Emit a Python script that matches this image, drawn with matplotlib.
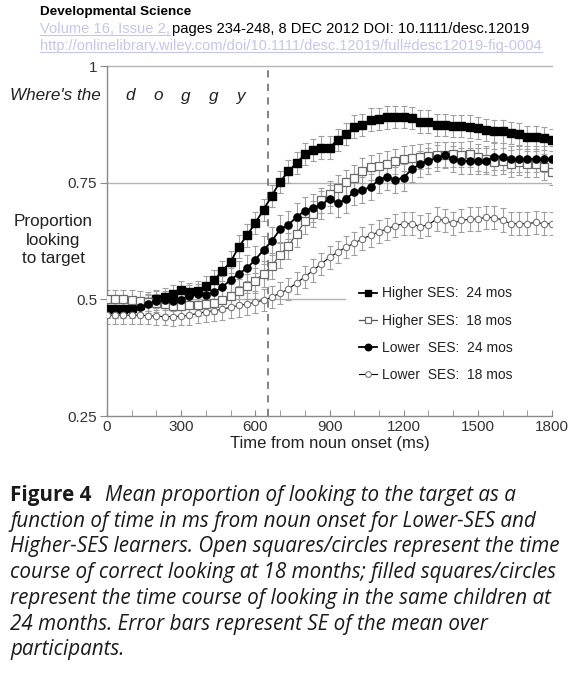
import numpy as np
import matplotlib
matplotlib.use("Agg")
import matplotlib.pyplot as plt
from matplotlib.lines import Line2D

plt.rcParams['font.family'] = ['Liberation Sans', 'DejaVu Sans']

# sample times (ms from noun onset), 30 Hz frames
times = np.linspace(0, 1800, 55)

higher_24 = [0.480, 0.480, 0.480, 0.481, 0.488, 0.494, 0.500, 0.505, 0.511, 0.519, 0.516,
             0.518, 0.529, 0.541, 0.561, 0.580, 0.613, 0.637, 0.664, 0.692, 0.722, 0.752,
             0.774, 0.792, 0.811, 0.820, 0.825, 0.825, 0.842, 0.854, 0.870, 0.874, 0.885,
             0.887, 0.890, 0.891, 0.891, 0.888, 0.881, 0.881, 0.874, 0.874, 0.872, 0.872,
             0.870, 0.867, 0.863, 0.861, 0.860, 0.857, 0.854, 0.847, 0.847, 0.845, 0.841]
higher_18 = [0.500, 0.500, 0.500, 0.499, 0.497, 0.495, 0.492, 0.489, 0.486, 0.486, 0.487,
             0.488, 0.490, 0.493, 0.498, 0.508, 0.518, 0.528, 0.540, 0.555, 0.572, 0.595,
             0.615, 0.640, 0.667, 0.683, 0.712, 0.726, 0.739, 0.751, 0.761, 0.776, 0.783,
             0.786, 0.791, 0.796, 0.801, 0.803, 0.806, 0.808, 0.810, 0.810, 0.811, 0.810,
             0.811, 0.804, 0.801, 0.794, 0.796, 0.791, 0.794, 0.790, 0.790, 0.783, 0.772]
lower_24 = [0.478, 0.478, 0.478, 0.478, 0.484, 0.490, 0.497, 0.498, 0.496, 0.499, 0.508,
            0.511, 0.509, 0.516, 0.526, 0.542, 0.555, 0.567, 0.585, 0.606, 0.625, 0.650,
            0.660, 0.676, 0.690, 0.696, 0.703, 0.715, 0.706, 0.714, 0.731, 0.734, 0.741,
            0.756, 0.763, 0.756, 0.761, 0.779, 0.790, 0.797, 0.803, 0.810, 0.801, 0.797,
            0.796, 0.796, 0.797, 0.806, 0.806, 0.801, 0.801, 0.801, 0.801, 0.801, 0.801]
lower_18 = [0.466, 0.466, 0.466, 0.466, 0.466, 0.465, 0.464, 0.463, 0.463, 0.464, 0.466,
            0.470, 0.473, 0.476, 0.479, 0.483, 0.487, 0.490, 0.494, 0.498, 0.505, 0.513,
            0.522, 0.535, 0.548, 0.562, 0.576, 0.590, 0.601, 0.612, 0.620, 0.630, 0.637,
            0.645, 0.651, 0.658, 0.662, 0.662, 0.656, 0.660, 0.672, 0.669, 0.663, 0.669,
            0.672, 0.672, 0.676, 0.675, 0.670, 0.662, 0.662, 0.662, 0.665, 0.662, 0.662]

# standard errors
se_higher_24 = [0.018, 0.018, 0.018, 0.018, 0.018, 0.018, 0.019, 0.019, 0.020, 0.020, 0.020,
                0.021, 0.021, 0.022, 0.022, 0.023, 0.024, 0.024, 0.024, 0.024, 0.024, 0.024,
                0.024, 0.024, 0.024, 0.024, 0.024, 0.024, 0.024, 0.024, 0.024, 0.024, 0.024,
                0.024, 0.024, 0.024, 0.024, 0.024, 0.024, 0.024, 0.024, 0.024, 0.024, 0.024,
                0.024, 0.024, 0.024, 0.024, 0.024, 0.024, 0.024, 0.024, 0.024, 0.024, 0.024]
se_higher_18 = [0.020, 0.020, 0.020, 0.020, 0.020, 0.020, 0.020, 0.021, 0.021, 0.022, 0.022,
                0.023, 0.023, 0.024, 0.024, 0.025, 0.026, 0.027, 0.027, 0.028, 0.028, 0.028,
                0.028, 0.028, 0.028, 0.027, 0.027, 0.027, 0.027, 0.027, 0.027, 0.027, 0.027,
                0.027, 0.027, 0.027, 0.027, 0.027, 0.027, 0.027, 0.027, 0.027, 0.027, 0.027,
                0.028, 0.028, 0.028, 0.028, 0.028, 0.028, 0.028, 0.028, 0.028, 0.028, 0.028]
se_lower_24 = [0.018, 0.018, 0.018, 0.018, 0.019, 0.019, 0.020, 0.020, 0.021, 0.021, 0.022,
               0.022, 0.023, 0.024, 0.025, 0.026, 0.027, 0.028, 0.029, 0.030, 0.030, 0.030,
               0.030, 0.030, 0.030, 0.030, 0.030, 0.030, 0.030, 0.030, 0.029, 0.028, 0.028,
               0.028, 0.028, 0.028, 0.028, 0.028, 0.028, 0.028, 0.028, 0.028, 0.028, 0.028,
               0.028, 0.028, 0.028, 0.028, 0.028, 0.028, 0.028, 0.028, 0.028, 0.028, 0.028]
se_lower_18 = [0.018, 0.018, 0.018, 0.018, 0.018, 0.018, 0.019, 0.019, 0.020, 0.020, 0.021,
               0.021, 0.022, 0.022, 0.023, 0.023, 0.024, 0.024, 0.024, 0.024, 0.024, 0.024,
               0.024, 0.024, 0.024, 0.024, 0.024, 0.024, 0.024, 0.024, 0.024, 0.024, 0.024,
               0.024, 0.024, 0.024, 0.025, 0.025, 0.025, 0.025, 0.025, 0.025, 0.025, 0.025,
               0.025, 0.025, 0.025, 0.025, 0.025, 0.025, 0.025, 0.025, 0.025, 0.025, 0.025]

labels = ["Higher SES:  24 mos", "Higher SES:  18 mos", "Lower  SES:  24 mos", "Lower  SES:  18 mos"]
noun_offset = 650
x_ticks = [0, 300, 600, 900, 1200, 1500, 1800]
y_ticks = [0.25, 0.5, 0.75, 1.0]
y_ticklabels = ["0.25", "0.5", "0.75", "1"]

GRID = '#b4b4b4'
SPINE = '#8a8a8a'
ERR = '#a0a0a0'
TXT = '#222222'

fig = plt.figure(figsize=(5.74, 6.75), dpi=100)
ax = fig.add_axes([107 / 574, 1 - 416 / 675, 445 / 574, 350 / 675])
ax.set_xlim(0, 1800)
ax.set_ylim(0.25, 1.0)

ax.axhline(1.0, color=GRID, lw=1.0, clip_on=False, zorder=1)
ax.axhline(0.75, color=GRID, lw=1.0, zorder=1)
ax.axhline(0.5, xmax=0.535, color=GRID, lw=1.0, zorder=1)
ax.axvline(noun_offset, color='#7a7a7a', lw=1.3, linestyle=(0, (4, 3.5)), zorder=1)

series = [
    (higher_24, se_higher_24, dict(color='black', lw=1.3, marker='s', ms=5.2, mfc='black', mec='black')),
    (higher_18, se_higher_18, dict(color='#555555', lw=0.9, marker='s', ms=5.2, mfc='white', mec='#6a6a6a', mew=0.9)),
    (lower_24, se_lower_24, dict(color='black', lw=1.3, marker='o', ms=5.2, mfc='black', mec='black')),
    (lower_18, se_lower_18, dict(color='black', lw=0.8, marker='o', ms=4.6, mfc='white', mec='#777777', mew=0.8)),
]

for vals, se, _ in series:
    ax.errorbar(times, vals, yerr=se, fmt='none', ecolor=ERR, elinewidth=0.8,
                capsize=2, capthick=0.8, zorder=2)

handles = []
for (vals, se, style), lab in zip(series, labels):
    h, = ax.plot(times, vals, zorder=3, label=lab, **style)
    handles.append(h)

leg = ax.legend(handles=handles, loc='upper left', bbox_to_anchor=(0.541, 0.402),
                frameon=False, fontsize=10, handlelength=1.3, handletextpad=0.4,
                labelspacing=0.95, borderpad=0.3, markerscale=0.9)
for txt in leg.get_texts():
    txt.set_color(TXT)

for s in ['top', 'right']:
    ax.spines[s].set_visible(False)
for s in ['left', 'bottom']:
    ax.spines[s].set_color(SPINE)
    ax.spines[s].set_linewidth(1.0)

ax.set_yticks(y_ticks)
ax.set_yticklabels(y_ticklabels)
ax.tick_params(axis='y', direction='out', length=5, color=SPINE, labelsize=11, pad=2, labelcolor='#333333')
ax.set_xticks(np.arange(0, 1801, 100), minor=True)
ax.set_xticks(x_ticks)
ax.tick_params(axis='x', which='both', direction='in', length=4, color=SPINE, labelsize=11, pad=3, labelcolor='#333333')
ax.set_xlabel("Time from noun onset (ms)", fontsize=12, labelpad=1, color=TXT)

fig.text(53 / 574, 1 - 240 / 675, "Proportion\nlooking\nto target", ha='center', va='center',
         fontsize=12.3, linespacing=1.33, color=TXT)

fig.text(10 / 574, 1 - 96 / 675, "Where's the", ha='left', va='center', fontsize=12.3,
         style='italic', color=TXT)
for xp, ch in zip([130, 158, 186, 214, 241], "doggy"):
    fig.text(xp / 574, 1 - 96 / 675, ch, ha='center', va='center', fontsize=12.3,
             style='italic', color=TXT)

# header
LINK = '#c5c5ef'
fig.text(40 / 574, 1 - 12 / 675, "Developmental Science", fontsize=9.7, weight='bold', va='center')
t1 = fig.text(40 / 574, 1 - 29 / 675, "Volume 16, Issue 2,", fontsize=10.6, color=LINK, va='center')
fig.canvas.draw()
r = fig.canvas.get_renderer()
bb1 = t1.get_window_extent(r)
fig.text(bb1.x1 / 574 + 2 / 574, 1 - 29 / 675, "pages 234-248, 8 DEC 2012 DOI: 10.1111/desc.12019",
         fontsize=10.6, va='center')
t2 = fig.text(40 / 574, 1 - 46 / 675,
              "http://onlinelibrary.wiley.com/doi/10.1111/desc.12019/full#desc12019-fig-0004",
              fontsize=10.5, color=LINK, va='center')
bb2 = t2.get_window_extent(r)
for bb in (bb1, bb2):
    fig.add_artist(Line2D([bb.x0 / 574, bb.x1 / 574], [(bb.y0 + 1) / 675] * 2,
                          color=LINK, lw=0.8, transform=fig.transFigure))

# caption
cap_lines = [
    "function of time in ms from noun onset for Lower-SES and",
    "Higher-SES learners. Open squares/circles represent the time",
    "course of correct looking at 18 months; filled squares/circles",
    "represent the time course of looking in the same children at",
    "24 months. Error bars represent SE of the mean over",
    "participants.",
]
CAP_FONT = ['Open Sans', 'DejaVu Sans']
CAP_SIZE = 14.9
fig.text(10 / 574, 1 - 495 / 675, "Figure 4", fontsize=CAP_SIZE, weight='bold', va='center',
         family=CAP_FONT, color='#1a1a1a')
fig.text(105 / 574, 1 - 495 / 675, "Mean proportion of looking to the target as a", fontsize=CAP_SIZE,
         style='italic', va='center', family=CAP_FONT, color='#1a1a1a')
for k, line in enumerate(cap_lines):
    fig.text(10 / 574, 1 - (521 + 25.8 * k) / 675, line, fontsize=CAP_SIZE, style='italic',
             va='center', family=CAP_FONT, color='#1a1a1a')

fig.savefig("out.png", dpi=100, facecolor='white')
